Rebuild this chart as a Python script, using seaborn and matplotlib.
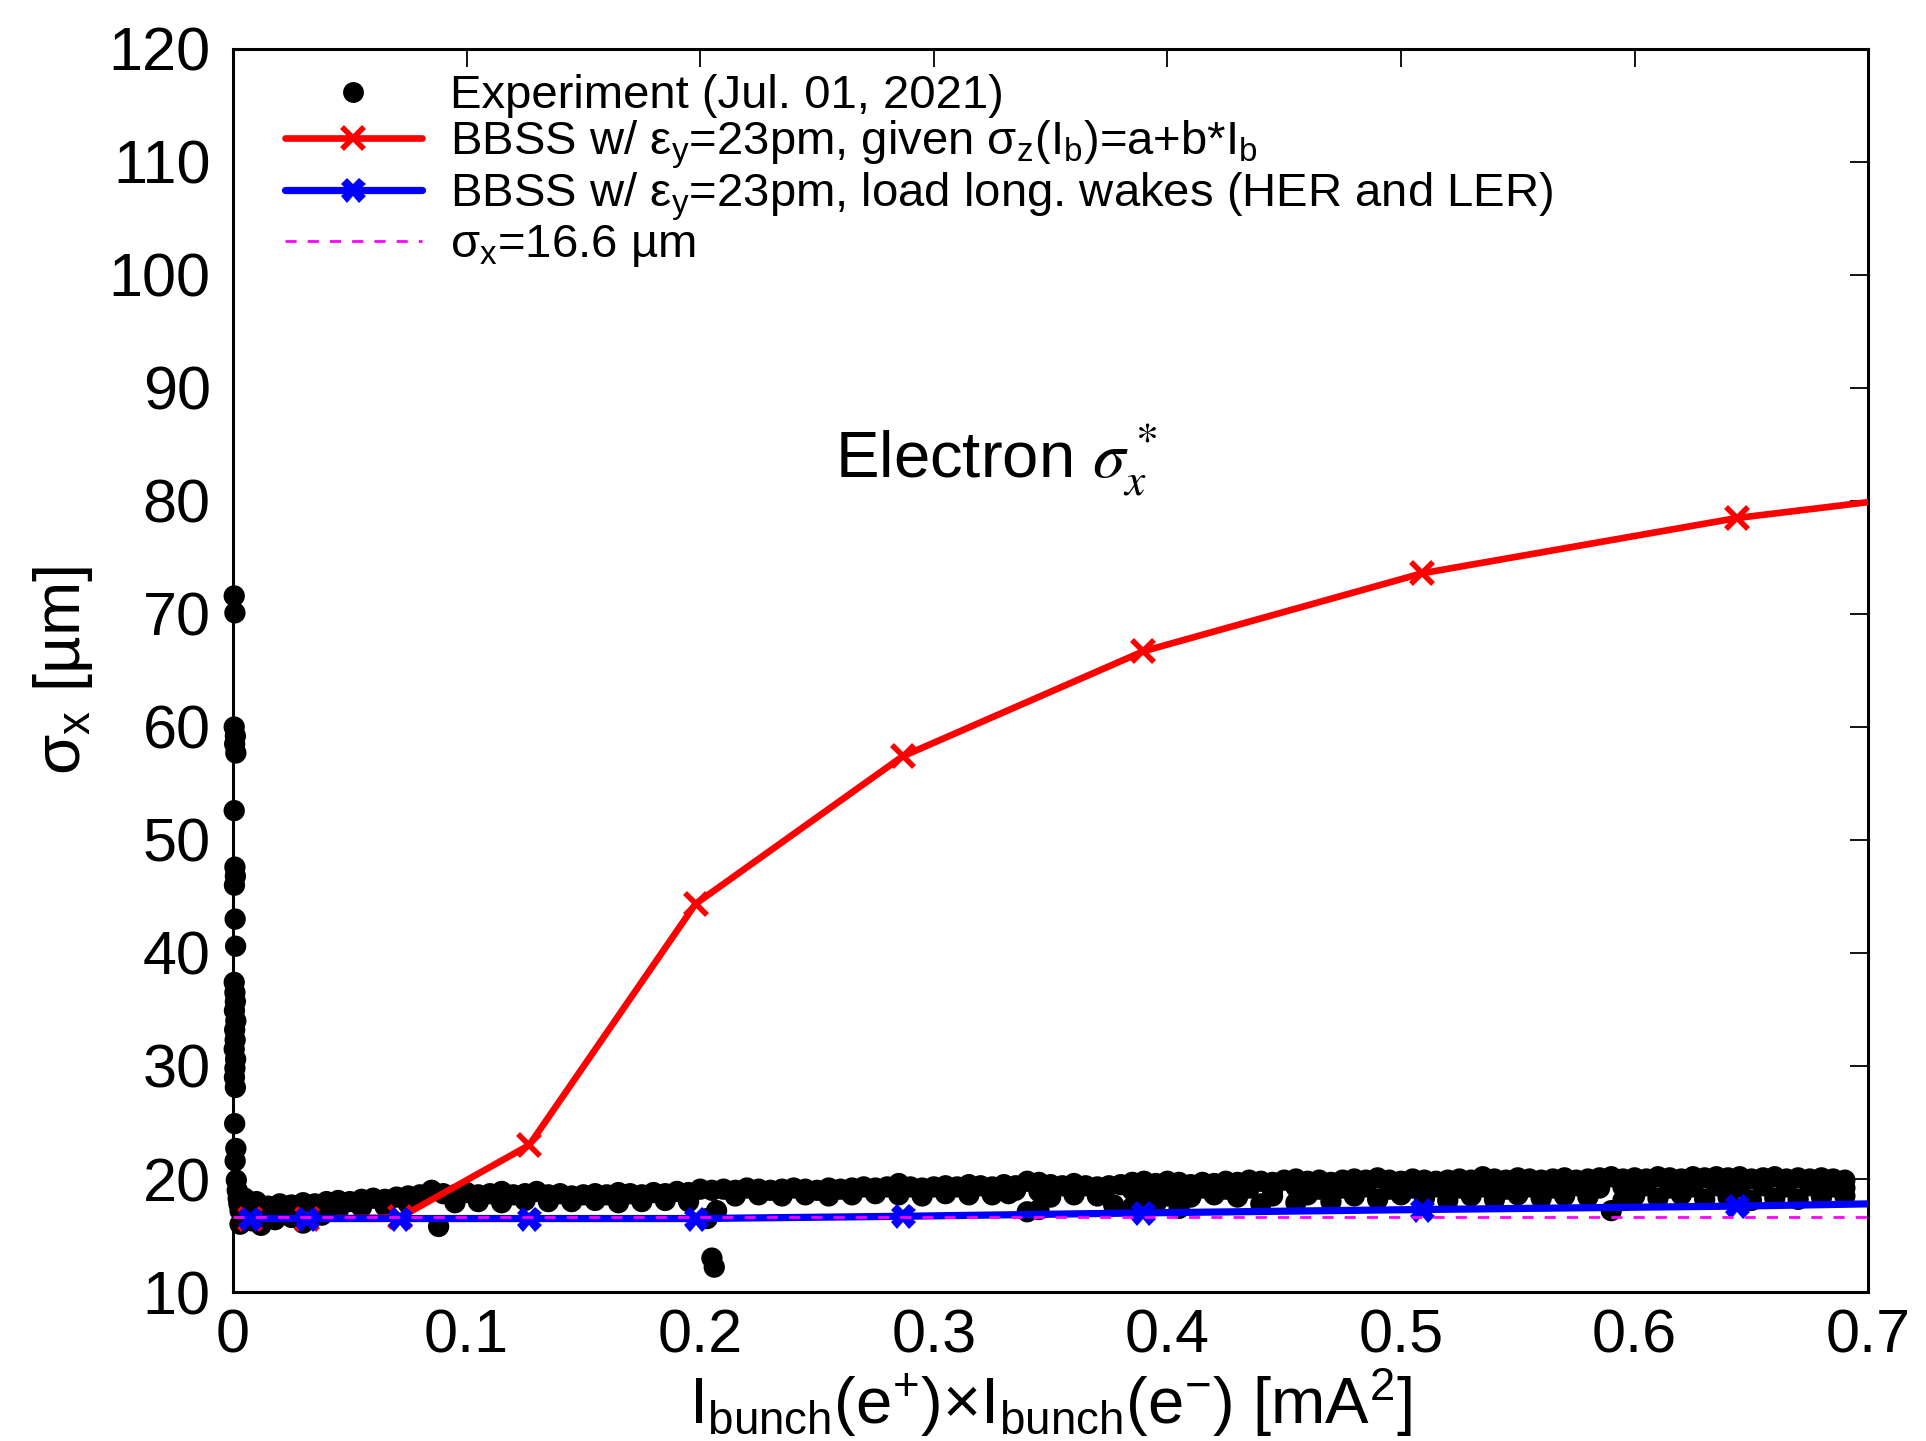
import numpy as np
import pandas as pd
import seaborn as sns
import matplotlib
matplotlib.use("Agg")
import matplotlib.pyplot as plt
from matplotlib.lines import Line2D

# ---------------- data ----------------
# Experiment (Jul. 01, 2021): vertical cluster at very low current product
exp_col_x = [0.0005, 0.0008, 0.0005, 0.0010, 0.0007, 0.0012, 0.0005, 0.0008, 0.0010, 0.0006,
             0.0009, 0.0011, 0.0005, 0.0008, 0.0010, 0.0006, 0.0012, 0.0007, 0.0009, 0.0005,
             0.0011, 0.0008, 0.0006, 0.0010, 0.0007, 0.0012, 0.0009, 0.0014, 0.0018, 0.0022,
             0.0025, 0.0030]
exp_col_y = [71.6, 70.1, 60.0, 59.2, 58.5, 57.7, 52.6, 47.6, 46.8, 46.0,
             43.0, 40.6, 37.4, 36.5, 35.7, 34.9, 34.0, 33.2, 32.3, 31.5,
             30.6, 29.8, 29.0, 28.1, 24.9, 22.7, 21.6, 19.9, 19.0, 18.3,
             17.8, 17.2]

# Experiment: upper row of the band
exp_top_x = [0.005, 0.010, 0.015, 0.020, 0.025, 0.030, 0.035, 0.040, 0.045, 0.050,
             0.055, 0.060, 0.065, 0.070, 0.075, 0.080, 0.085, 0.090, 0.095, 0.100,
             0.105, 0.110, 0.115, 0.120, 0.125, 0.130, 0.135, 0.140, 0.145, 0.150,
             0.155, 0.160, 0.165, 0.170, 0.175, 0.180, 0.185, 0.190, 0.195, 0.200,
             0.205, 0.210, 0.215, 0.220, 0.225, 0.230, 0.235, 0.240, 0.245, 0.250,
             0.255, 0.260, 0.265, 0.270, 0.275, 0.280, 0.285, 0.290, 0.295, 0.300,
             0.305, 0.310, 0.315, 0.320, 0.325, 0.330, 0.335, 0.340, 0.345, 0.350,
             0.355, 0.360, 0.365, 0.370, 0.375, 0.380, 0.385, 0.390, 0.395, 0.400,
             0.405, 0.410, 0.415, 0.420, 0.425, 0.430, 0.435, 0.440, 0.445, 0.450,
             0.455, 0.460, 0.465, 0.470, 0.475, 0.480, 0.485, 0.490, 0.495, 0.500,
             0.505, 0.510, 0.515, 0.520, 0.525, 0.530, 0.535, 0.540, 0.545, 0.550,
             0.555, 0.560, 0.565, 0.570, 0.575, 0.580, 0.585, 0.590, 0.595, 0.600,
             0.605, 0.610, 0.615, 0.620, 0.625, 0.630, 0.635, 0.640, 0.645, 0.650,
             0.655, 0.660, 0.665, 0.670, 0.675, 0.680, 0.685, 0.690]
exp_top_y = [18.3, 18.0, 17.6, 17.8, 17.7, 17.9, 17.8, 18.0, 18.1, 18.0,
             18.2, 18.3, 18.2, 18.4, 18.5, 18.6, 19.0, 18.7, 18.6, 18.8,
             18.6, 18.7, 18.9, 18.6, 18.7, 18.9, 18.6, 18.7, 18.5, 18.6,
             18.7, 18.6, 18.8, 18.7, 18.6, 18.8, 18.7, 18.9, 18.8, 19.1,
             19.0, 19.1, 19.0, 19.2, 19.1, 19.0, 19.1, 19.2, 19.1, 19.0,
             19.2, 19.1, 19.2, 19.3, 19.2, 19.3, 19.6, 19.3, 19.2, 19.3,
             19.4, 19.3, 19.5, 19.4, 19.3, 19.5, 19.4, 19.8, 19.7, 19.5,
             19.4, 19.6, 19.4, 19.3, 19.4, 19.5, 19.7, 19.8, 19.6, 19.8,
             19.7, 19.5, 19.7, 19.6, 19.8, 19.7, 19.9, 19.8, 19.7, 19.9,
             20.0, 19.8, 19.9, 19.7, 19.9, 20.0, 19.9, 20.1, 19.9, 19.8,
             20.0, 19.9, 19.8, 19.9, 20.0, 19.9, 20.2, 20.0, 19.9, 20.1,
             20.0, 19.9, 20.0, 20.1, 19.9, 20.0, 20.1, 20.2, 20.0, 20.1,
             20.0, 20.2, 20.1, 20.0, 20.2, 20.1, 20.2, 20.1, 20.2, 20.0,
             20.1, 20.2, 20.0, 20.1, 20.0, 20.1, 20.0, 19.9]

# Experiment: middle row (right part of the band, where it is thicker)
exp_mid_x = [0.335, 0.345, 0.385, 0.395, 0.405, 0.415, 0.425, 0.435, 0.445, 0.455,
             0.465, 0.475, 0.485, 0.495, 0.505, 0.515, 0.525, 0.535, 0.545, 0.555,
             0.565, 0.575, 0.585, 0.595, 0.605, 0.615, 0.625, 0.635, 0.645, 0.655,
             0.665, 0.675, 0.685, 0.690]
exp_mid_y = [19.0, 18.9, 19.0, 19.1, 19.0, 19.2, 19.1, 19.2, 19.0, 19.3,
             19.1, 19.2, 19.3, 19.1, 19.2, 19.3, 19.2, 19.3, 19.1, 19.3,
             19.2, 19.4, 19.2, 19.3, 19.4, 19.2, 19.3, 19.4, 19.3, 19.4,
             19.3, 19.4, 19.3, 19.2]

# Experiment: lower row of the band and outliers
exp_low_x = [0.003, 0.008, 0.012, 0.018, 0.025, 0.030, 0.038, 0.045, 0.055, 0.065,
             0.075, 0.088, 0.095, 0.105, 0.115, 0.125, 0.135, 0.145, 0.155, 0.165,
             0.175, 0.185, 0.195, 0.203, 0.207, 0.205, 0.206, 0.215, 0.225, 0.235,
             0.245, 0.255, 0.265, 0.275, 0.285, 0.295, 0.305, 0.315, 0.325, 0.332,
             0.340, 0.345, 0.350, 0.360, 0.370, 0.377, 0.385, 0.390, 0.395, 0.400,
             0.405, 0.410, 0.420, 0.430, 0.440, 0.445, 0.455, 0.460, 0.470, 0.480,
             0.490, 0.500, 0.510, 0.520, 0.530, 0.540, 0.550, 0.560, 0.570, 0.580,
             0.590, 0.595, 0.600, 0.610, 0.620, 0.630, 0.640, 0.650, 0.660, 0.670,
             0.680, 0.690]
exp_low_y = [16.0, 16.3, 15.9, 16.4, 16.6, 16.1, 16.8, 17.2, 17.5, 17.6,
             17.8, 15.8, 17.9, 18.0, 17.9, 18.1, 18.0, 18.0, 18.1, 17.9,
             18.0, 18.1, 18.0, 16.5, 17.2, 13.0, 12.2, 18.5, 18.6, 18.5,
             18.6, 18.5, 18.6, 18.7, 18.6, 18.5, 18.7, 18.6, 18.6, 18.7,
             17.1, 17.3, 18.4, 18.6, 18.5, 17.7, 17.5, 18.3, 17.8, 18.5,
             17.4, 18.4, 18.6, 18.4, 17.8, 18.5, 17.9, 18.6, 18.0, 18.5,
             18.2, 18.6, 18.3, 18.1, 18.5, 18.2, 18.6, 18.3, 18.5, 18.4,
             17.2, 18.1, 18.5, 18.3, 18.6, 18.2, 18.4, 18.1, 18.3, 18.2,
             18.4, 18.5]

# BBSS simulations
sim_x = [0.0073, 0.0317, 0.0715, 0.1268, 0.198, 0.2866, 0.3897, 0.509, 0.644, 0.700]
red_y = [16.5, 16.5, 16.6, 23.0, 44.35, 57.4, 66.7, 73.6, 78.5, 79.9]
blue_y = [16.5, 16.5, 16.5, 16.5, 16.5, 16.7, 17.0, 17.3, 17.6, 17.8]
sigma_ref = 16.6

labels = [
    "Experiment (Jul. 01, 2021)",
    r"BBSS w/ $\mathregular{\epsilon_y}$=23pm, given $\mathregular{\sigma_z(I_b)}$=a+b*I$\mathregular{_b}$",
    r"BBSS w/ $\mathregular{\epsilon_y}$=23pm, load long. wakes (HER and LER)",
    r"$\mathregular{\sigma_x}$=16.6 µm",
]
x_ticks = [0, 0.1, 0.2, 0.3, 0.4, 0.5, 0.6, 0.7]
x_tick_labels = ["0", "0.1", "0.2", "0.3", "0.4", "0.5", "0.6", "0.7"]
y_ticks = [10, 20, 30, 40, 50, 60, 70, 80, 90, 100, 110, 120]

# ---------------- plotting ----------------
sns.set_theme(style="white")
plt.rcParams["font.family"] = ["Liberation Sans", "DejaVu Sans"]
plt.rcParams["mathtext.fontset"] = "custom"
plt.rcParams["mathtext.rm"] = "Liberation Sans"
plt.rcParams["mathtext.it"] = "Liberation Sans:italic"
for key in ["text.color", "axes.labelcolor", "xtick.color", "ytick.color", "axes.edgecolor"]:
    plt.rcParams[key] = "black"

fig = plt.figure(figsize=(19.26, 14.41), dpi=100)
ax = fig.add_axes([0.121, 0.1034, 0.849, 0.8626])

exp_df = pd.DataFrame({
    "x": exp_col_x + exp_top_x + exp_mid_x + exp_low_x,
    "y": exp_col_y + exp_top_y + exp_mid_y + exp_low_y,
})
sns.scatterplot(data=exp_df, x="x", y="y", ax=ax, color="black", s=235,
                edgecolor="none", linewidth=0, zorder=2, legend=False, clip_on=False)

sim_df = pd.DataFrame({"x": sim_x, "red": red_y, "blue": blue_y})
sns.lineplot(data=sim_df, x="x", y="red", ax=ax, color="red", lw=4.8,
             marker="x", markersize=16, markeredgewidth=4, markeredgecolor="red",
             markevery=list(range(9)), zorder=3, legend=False)
sns.lineplot(data=sim_df, x="x", y="blue", ax=ax, color="blue", lw=5.2,
             marker="X", markersize=18, markeredgewidth=0, markerfacecolor="blue",
             markevery=list(range(9)), zorder=4, legend=False)
ax.axhline(sigma_ref, color="magenta", lw=2.0, ls=(0, (4, 4)), zorder=5)

ax.set_xlim(0, 0.7)
ax.set_ylim(10, 120)
ax.set_xticks(x_ticks)
ax.set_xticklabels(x_tick_labels)
ax.set_yticks(y_ticks)
ax.tick_params(axis="both", which="major", direction="in", length=13, width=1.3,
               labelsize=44, top=True, right=True, color="black", labelcolor="black")
ax.tick_params(axis="x", pad=12)
ax.tick_params(axis="y", pad=16)
for sp in ax.spines.values():
    sp.set_linewidth(2.2)
    sp.set_color("black")

ax.set_xlabel(r"I$\mathregular{_{bunch}}$(e$\mathregular{^{+}}$)×I$\mathregular{_{bunch}}$(e$\mathregular{^{-}}$) [mA$\mathregular{^{2}}$]",
              fontsize=47, labelpad=0)
ax.set_ylabel(r"$\mathregular{\sigma_x}$ [µm]", fontsize=47, labelpad=10)

ax.text(0.2577, 82.0, r"Electron $\sigma_x^*$", fontsize=47, ha="left", va="baseline",
        math_fontfamily="stix")

handles = [
    Line2D([], [], color="black", marker="o", ls="none", markersize=15, markeredgewidth=0),
    Line2D([], [], color="red", lw=4.8, marker="x", markersize=16, markeredgewidth=4),
    Line2D([], [], color="blue", lw=5.2, marker="X", markersize=18, markeredgewidth=0),
    Line2D([], [], color="magenta", lw=2.0, ls=(0, (4, 4))),
]
ax.legend(handles, labels, loc="upper left", bbox_to_anchor=(0.02, 0.995), frameon=False,
          fontsize=34, handlelength=2.9, handletextpad=0.6, labelspacing=0.0,
          borderaxespad=0.0)

fig.savefig("out.png", dpi=100)
